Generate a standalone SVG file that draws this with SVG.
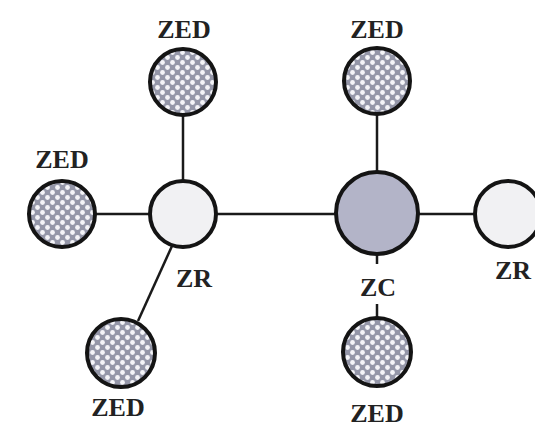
<svg xmlns="http://www.w3.org/2000/svg" width="535" height="429" viewBox="0 0 535 429">
  <defs>
    <pattern id="dots" width="10" height="10" patternUnits="userSpaceOnUse">
      <rect width="10" height="10" fill="#9496a8"/>
      <circle cx="2.5" cy="2.5" r="2.4" fill="#f4f4f8"/>
      <circle cx="7.5" cy="7.5" r="2.4" fill="#f4f4f8"/>
    </pattern>
    <style>
      .edge { stroke: #1a1a1a; stroke-width: 2.5; fill: none; }
      .node { stroke: #141414; stroke-width: 4; }
      .zed { fill: url(#dots); }
      .zr { fill: #f1f1f3; }
      .zc { fill: #b3b4c8; }
      .lbl { font-family: "Liberation Serif", "Times New Roman", serif; font-weight: bold; font-size: 26px; fill: #222; text-anchor: middle; }
    </style>
  </defs>
  <rect width="535" height="429" fill="#ffffff"/>
  <g id="connectors">
    <line class="edge" x1="95" y1="214" x2="150" y2="214"/>
    <line class="edge" x1="216" y1="214" x2="336" y2="214"/>
    <line class="edge" x1="418" y1="214" x2="475" y2="214"/>
    <line class="edge" x1="183" y1="115" x2="183" y2="181"/>
    <line class="edge" x1="377" y1="114" x2="377" y2="172"/>
    <line class="edge" x1="172" y1="246" x2="138" y2="321"/>
    <line class="edge" x1="377" y1="254" x2="377" y2="264"/>
    <line class="edge" x1="377" y1="304" x2="377" y2="318"/>
  </g>
  <g id="zed-top-left">
    <circle class="node zed" cx="183" cy="82" r="33"/>
    <text class="lbl" x="184" y="38">ZED</text>
  </g>
  <g id="zed-left">
    <circle class="node zed" cx="62" cy="214" r="33"/>
    <text class="lbl" x="62" y="168">ZED</text>
  </g>
  <g id="zr-left">
    <circle class="node zr" cx="183" cy="214" r="33"/>
    <text class="lbl" x="194" y="287">ZR</text>
  </g>
  <g id="zed-bottom-left">
    <circle class="node zed" cx="121" cy="353" r="34"/>
    <text class="lbl" x="118" y="416">ZED</text>
  </g>
  <g id="zed-top-right">
    <circle class="node zed" cx="377" cy="81" r="33"/>
    <text class="lbl" x="377" y="38">ZED</text>
  </g>
  <g id="zc">
    <circle class="node zc" cx="377" cy="213" r="41"/>
    <text class="lbl" x="378" y="296">ZC</text>
  </g>
  <g id="zed-bottom-right">
    <circle class="node zed" cx="377" cy="352" r="34"/>
    <text class="lbl" x="377" y="422">ZED</text>
  </g>
  <g id="zr-right">
    <circle class="node zr" cx="508" cy="214" r="33"/>
    <text class="lbl" x="513" y="279">ZR</text>
  </g>
</svg>
